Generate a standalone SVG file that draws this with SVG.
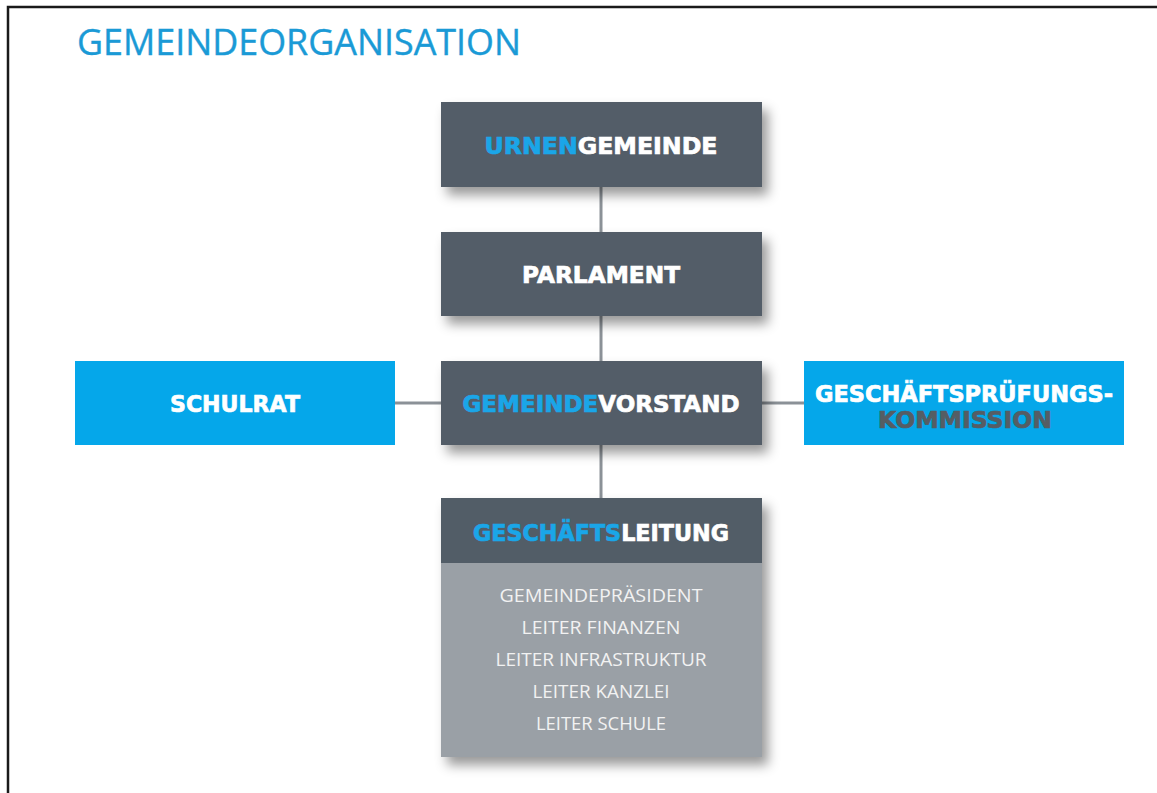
<svg xmlns="http://www.w3.org/2000/svg" width="1157" height="793" viewBox="0 0 1157 793">
<defs>
<filter id="sh" x="-10%" y="-10%" width="130%" height="140%">
<feDropShadow dx="6" dy="8" stdDeviation="6" flood-color="#000" flood-opacity="0.4"/>
</filter>
<style>
.dark{fill:#525d67}
.blue{fill:#05a7ea}
.body{fill:#9aa0a6}
.lbl{font-family:"DejaVu Sans",sans-serif;font-weight:bold;font-size:23px;text-anchor:middle;stroke-width:0.7px}
.w{fill:#ffffff;stroke:#ffffff}
.b{fill:#1aa6e8;stroke:#1aa6e8}
.g{fill:#555d64;stroke:#555d64}
.item{font-family:"Open Sans","DejaVu Sans",sans-serif;font-size:18px;fill:#f2f2f2;text-anchor:middle}
.conn{stroke:#8b9197;stroke-width:3;fill:none}
</style>
</defs>
<rect width="1157" height="793" fill="#ffffff"/>
<path d="M8 793 V7 H1157" fill="none" stroke="#1a1a1a" stroke-width="2.5"/>
<text x="77" y="55" font-family="Open Sans, sans-serif" font-size="37" fill="#1a9ad6" stroke="#1a9ad6" stroke-width="0.4" textLength="444" lengthAdjust="spacingAndGlyphs">GEMEINDEORGANISATION</text>
<g id="connectors">
<line class="conn" x1="601" y1="187" x2="601" y2="498"/>
<line class="conn" x1="395" y1="403" x2="804" y2="403"/>
</g>
<g id="urnengemeinde">
<rect class="dark" x="441" y="102" width="321" height="85" filter="url(#sh)"/>
<text class="lbl" x="601" y="154" textLength="233" lengthAdjust="spacingAndGlyphs"><tspan class="b">URNEN</tspan><tspan class="w">GEMEINDE</tspan></text>
</g>
<g id="parlament">
<rect class="dark" x="441" y="232" width="321" height="84" filter="url(#sh)"/>
<text class="lbl w" x="601" y="283" textLength="158" lengthAdjust="spacingAndGlyphs">PARLAMENT</text>
</g>
<g id="gemeindevorstand">
<rect class="dark" x="441" y="361" width="321" height="84" filter="url(#sh)"/>
<text class="lbl" x="601" y="412" textLength="277" lengthAdjust="spacingAndGlyphs"><tspan class="b">GEMEINDE</tspan><tspan class="w">VORSTAND</tspan></text>
</g>
<g id="schulrat">
<rect class="blue" x="75" y="361" width="320" height="84"/>
<text class="lbl w" x="235" y="412" textLength="130" lengthAdjust="spacingAndGlyphs">SCHULRAT</text>
</g>
<g id="gpk">
<rect class="blue" x="804" y="361" width="320" height="84"/>
<text class="lbl w" x="964" y="402" textLength="298" lengthAdjust="spacingAndGlyphs">GESCHÄFTSPRÜFUNGS-</text>
<text class="lbl g" x="965" y="428" textLength="174" lengthAdjust="spacingAndGlyphs">KOMMISSION</text>
</g>
<g id="geschaeftsleitung">
<rect class="body" x="441" y="498" width="321" height="259" filter="url(#sh)"/>
<rect class="dark" x="441" y="498" width="321" height="65"/>
<text class="lbl" x="601" y="541" textLength="256" lengthAdjust="spacingAndGlyphs"><tspan class="b">GESCHÄFTS</tspan><tspan class="w">LEITUNG</tspan></text>
<text class="item" x="601" y="602" textLength="203" lengthAdjust="spacingAndGlyphs">GEMEINDEPRÄSIDENT</text>
<text class="item" x="601" y="634" textLength="159" lengthAdjust="spacingAndGlyphs">LEITER FINANZEN</text>
<text class="item" x="601" y="666" textLength="211" lengthAdjust="spacingAndGlyphs">LEITER INFRASTRUKTUR</text>
<text class="item" x="601" y="698" textLength="137" lengthAdjust="spacingAndGlyphs">LEITER KANZLEI</text>
<text class="item" x="601" y="730" textLength="130" lengthAdjust="spacingAndGlyphs">LEITER SCHULE</text>
</g>
</svg>
